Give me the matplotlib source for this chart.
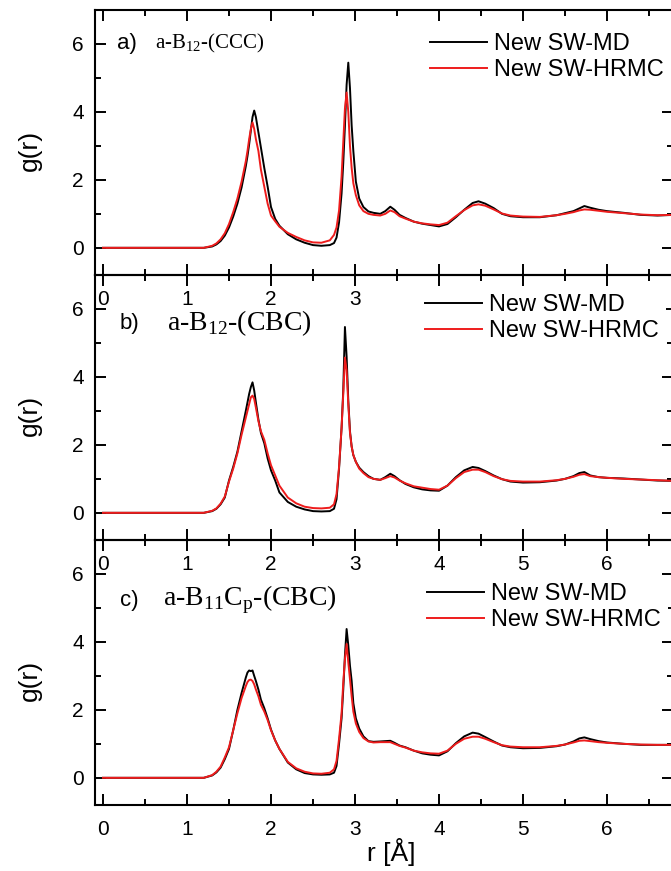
import numpy as np
import matplotlib
matplotlib.use("Agg")
import matplotlib.pyplot as plt
from matplotlib.ticker import MultipleLocator

plt.rcParams['font.family'] = ['Liberation Sans', 'DejaVu Sans']
plt.rcParams['mathtext.fontset'] = 'custom'
plt.rcParams['mathtext.rm'] = 'Liberation Serif'

# r grid (Angstrom), shared by all curves
r = [0.0, 1.2, 1.3, 1.35, 1.4, 1.45, 1.5, 1.55, 1.6, 1.65,
     1.7, 1.72, 1.74, 1.76, 1.78, 1.80, 1.82, 1.85, 1.88, 1.92,
     1.96, 2.0, 2.05, 2.1, 2.2, 2.3, 2.4, 2.5, 2.6, 2.7,
     2.75, 2.78, 2.81, 2.84, 2.86, 2.88, 2.90, 2.92, 2.94, 2.96,
     2.98, 3.01, 3.05, 3.1, 3.16, 3.22, 3.3, 3.36, 3.42, 3.47,
     3.53, 3.6, 3.7, 3.8, 3.9, 4.0, 4.1, 4.2, 4.3, 4.4,
     4.47, 4.55, 4.65, 4.75, 4.85, 5.0, 5.2, 5.4, 5.5, 5.6,
     5.67, 5.73, 5.8, 5.9, 6.0, 6.2, 6.4, 6.6, 6.8, 7.0]

# a) a-B12-(CCC)
g_ccc_md = [0, 0, 0.04, 0.1, 0.2, 0.36, 0.6, 0.92, 1.3, 1.78,
            2.4, 2.7, 3.05, 3.45, 3.85, 4.04, 3.85, 3.4, 2.95, 2.35,
            1.8, 1.2, 0.85, 0.65, 0.4, 0.25, 0.15, 0.08, 0.06, 0.08,
            0.14, 0.3, 0.75, 1.6, 2.5, 3.6, 4.8, 5.45, 4.7, 3.6,
            2.85, 1.95, 1.45, 1.2, 1.07, 1.03, 1.0, 1.08, 1.21, 1.12,
            0.97, 0.88, 0.77, 0.71, 0.67, 0.63, 0.7, 0.9, 1.12, 1.32,
            1.37, 1.3, 1.17, 1.0, 0.93, 0.9, 0.9, 0.96, 1.02, 1.08,
            1.16, 1.23, 1.18, 1.12, 1.08, 1.03, 0.97, 0.95, 0.97, 0.97]
g_ccc_hrmc = [0, 0, 0.06, 0.13, 0.25, 0.43, 0.7, 1.05, 1.45, 1.95,
              2.55, 2.85, 3.2, 3.5, 3.69, 3.5, 3.2, 2.85, 2.3, 1.8,
              1.3, 0.95, 0.78, 0.62, 0.44, 0.32, 0.22, 0.16, 0.15, 0.22,
              0.38, 0.6, 1.1, 2.1, 3.1, 4.1, 4.57, 4.0, 3.0, 2.35,
              1.9, 1.55, 1.25, 1.08, 1.0, 0.97, 0.95, 1.0, 1.1, 1.05,
              0.93, 0.86, 0.77, 0.72, 0.69, 0.67, 0.74, 0.93, 1.11, 1.25,
              1.28, 1.24, 1.13, 1.01, 0.95, 0.92, 0.91, 0.96, 1.0, 1.05,
              1.1, 1.13, 1.12, 1.09, 1.06, 1.02, 0.98, 0.96, 0.97, 0.97]

# b) a-B12-(CBC)
g_cbc_md = [0, 0, 0.05, 0.12, 0.25, 0.45, 0.95, 1.35, 1.8, 2.4,
            3.0, 3.25, 3.5, 3.7, 3.84, 3.6, 3.25, 2.75, 2.35, 2.05,
            1.6, 1.25, 0.95, 0.6, 0.32, 0.18, 0.1, 0.05, 0.04, 0.05,
            0.12, 0.4, 1.3, 2.5, 3.6, 5.47, 4.6, 3.3, 2.4, 1.95,
            1.7, 1.5, 1.33, 1.2, 1.08, 1.0, 0.97, 1.05, 1.15, 1.08,
            0.96, 0.85, 0.75, 0.69, 0.66, 0.65, 0.8, 1.05, 1.25, 1.35,
            1.32, 1.23, 1.1, 0.99, 0.92, 0.89, 0.9, 0.95, 1.0, 1.08,
            1.17, 1.2, 1.1, 1.05, 1.03, 1.01, 0.98, 0.95, 0.94, 0.94]
g_cbc_hrmc = [0, 0, 0.06, 0.13, 0.27, 0.48, 0.92, 1.3, 1.75, 2.3,
              2.8, 3.0, 3.2, 3.4, 3.45, 3.35, 3.1, 2.7, 2.4, 2.15,
              1.75, 1.4, 1.1, 0.8, 0.45, 0.28, 0.18, 0.14, 0.13, 0.15,
              0.25, 0.55, 1.35, 2.5, 3.5, 4.57, 4.2, 3.2, 2.35, 1.95,
              1.7, 1.5, 1.3, 1.17, 1.05, 1.0, 0.97, 1.02, 1.08, 1.04,
              0.95, 0.87, 0.78, 0.74, 0.7, 0.68, 0.8, 1.02, 1.2, 1.27,
              1.27, 1.2, 1.08, 0.99, 0.94, 0.92, 0.92, 0.96, 1.0, 1.06,
              1.12, 1.14, 1.08, 1.05, 1.03, 1.0, 0.98, 0.96, 0.94, 0.94]

# c) a-B11Cp-(CBC)
g_b11c_md = [0, 0, 0.07, 0.16, 0.3, 0.55, 0.85, 1.4, 2.0, 2.5,
             2.95, 3.1, 3.16, 3.14, 3.16, 3.0, 2.85, 2.6, 2.3, 2.05,
             1.75, 1.42, 1.1, 0.85, 0.45, 0.25, 0.14, 0.1, 0.09, 0.1,
             0.15, 0.35, 1.0, 1.75, 2.6, 3.6, 4.38, 3.9, 3.3, 2.85,
             2.2, 1.75, 1.45, 1.22, 1.08, 1.06, 1.07, 1.08, 1.09, 1.03,
             0.95, 0.9, 0.8, 0.72, 0.68, 0.66, 0.78, 1.02, 1.22, 1.33,
             1.3, 1.2, 1.07, 0.95, 0.9, 0.87, 0.88, 0.93, 0.98, 1.07,
             1.16, 1.19, 1.14, 1.08, 1.04, 1.0, 0.97, 0.97, 0.97, 0.97]
g_b11c_hrmc = [0, 0, 0.08, 0.18, 0.33, 0.6, 0.9, 1.4, 1.9, 2.35,
               2.7, 2.82, 2.88, 2.89, 2.85, 2.75, 2.6, 2.4, 2.15, 1.95,
               1.7, 1.4, 1.1, 0.85, 0.47, 0.28, 0.18, 0.13, 0.12, 0.15,
               0.25, 0.5, 1.15, 1.9, 2.8, 3.5, 3.94, 3.4, 2.9, 2.4,
               1.95, 1.6, 1.35, 1.17, 1.07, 1.04, 1.05, 1.05, 1.05, 1.0,
               0.94, 0.89, 0.8, 0.75, 0.72, 0.71, 0.8, 1.0, 1.15, 1.21,
               1.21, 1.15, 1.05, 0.96, 0.92, 0.9, 0.9, 0.94, 0.98, 1.04,
               1.09, 1.1, 1.08, 1.05, 1.03, 1.0, 0.98, 0.97, 0.97, 0.97]

tags = ['a)', 'b)', 'c)']
titles = [r'a-B$_{\mathrm{12}}$-(CCC)', r'a-B$_{\mathrm{12}}$-(CBC)',
          r'a-B$_{\mathrm{11}}$C$_{\mathrm{p}}$-(CBC)']
md = [g_ccc_md, g_cbc_md, g_b11c_md]
hrmc = [g_ccc_hrmc, g_cbc_hrmc, g_b11c_hrmc]

W, H = 671, 871
fig = plt.figure(figsize=(W / 100, H / 100), dpi=100)

left, right = 95, 673
tops = [10, 275, 540]
ph = 265
# legend anchor (handle left edge, centre y) in pixels
leg_pos = [(430, 57), (425, 318), (427, 607)]
tag_pos = [(117, 43), (120, 323), (120, 600)]
title_x = [155, 167, 163]
title_size = [15, 20, 20]
bpad = 0.3

axes = []
for i in range(3):
    ax = fig.add_axes([left / W, 1 - (tops[i] + ph) / H, (right - left) / W, ph / H])
    axes.append(ax)
    ax.set_facecolor('none')
    ax.plot(r, md[i], color='black', lw=1.4, label='New SW-MD')
    ax.plot(r, hrmc[i], color='#ee1c1c', lw=1.4, label='New SW-HRMC')
    ax.set_xlim(-0.095, 6.785)
    ax.set_ylim(-0.8, 7)
    ax.xaxis.set_major_locator(MultipleLocator(1))
    ax.xaxis.set_minor_locator(MultipleLocator(0.5))
    ax.yaxis.set_major_locator(MultipleLocator(2))
    ax.yaxis.set_minor_locator(MultipleLocator(1))
    ax.tick_params(which='both', direction='in', top=True, right=True, width=1.4)
    ax.tick_params(which='major', length=8, labelsize=15)
    ax.tick_params(which='minor', length=4.5)
    ax.tick_params(axis='x', pad=11)
    ax.tick_params(axis='y', pad=8)
    for s in ax.spines.values():
        s.set_linewidth(1.5)
    ax.set_ylabel('g(r)', fontsize=19)
    ax.yaxis.set_label_coords(-0.092, 0.47)

    # opaque legend box, shifted left by its own padding
    lx, ly = leg_pos[i]
    lx -= bpad * 17 * 100 / 72
    leg = ax.legend(loc='center left', bbox_to_anchor=(lx / W, 1 - ly / H),
                    bbox_transform=fig.transFigure, frameon=True, fontsize=17,
                    handlelength=2.4, handletextpad=0.3, borderpad=bpad,
                    borderaxespad=0, labelspacing=0.15, fancybox=False)
    leg.get_frame().set_edgecolor('none')
    leg.get_frame().set_facecolor('white')
    leg.get_frame().set_alpha(1)
    leg.set_zorder(5)

    tx, ty = tag_pos[i]
    fig.text(tx / W, 1 - ty / H, tags[i], fontsize=16, va='center')
    fig.text(title_x[i] / W, 1 - ty / H, titles[i], fontsize=title_size[i],
             family='Liberation Serif', va='center')

# the b) legend sits on top of the upper panel's 4, 5, 6 labels
fig.canvas.draw()
for lab in axes[0].get_xticklabels():
    if lab.get_position()[0] > 3.5:
        lab.set_visible(False)

fig.text(391 / W, 1 - 852 / H, 'r [Å]', fontsize=19, ha='center', va='center')

fig.savefig('out.png', dpi=100)
